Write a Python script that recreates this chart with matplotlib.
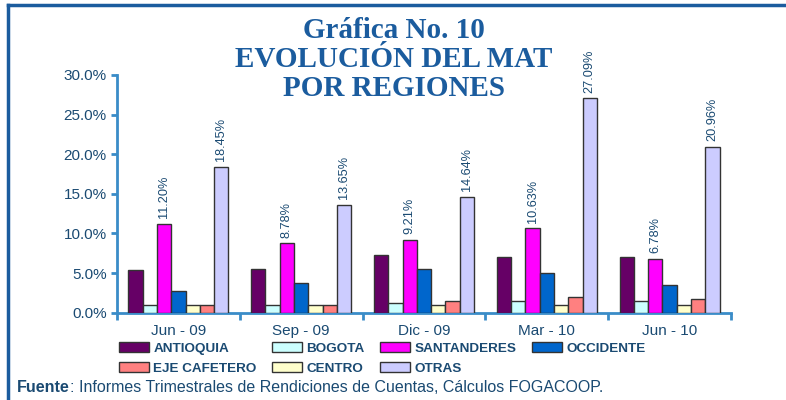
import matplotlib
matplotlib.use("Agg")
import matplotlib.pyplot as plt
from matplotlib.patches import Patch
from matplotlib.lines import Line2D
import numpy as np

# ---- data ----
periods = ["Jun - 09", "Sep - 09", "Dic - 09", "Mar - 10", "Jun - 10"]
series_names = ["ANTIOQUIA", "BOGOTA", "SANTANDERES", "OCCIDENTE",
                "CENTRO", "EJE CAFETERO", "OTRAS"]
antioquia = [5.4, 5.5, 7.25, 7.0, 7.0]
bogota = [1.0, 1.0, 1.26, 1.5, 1.5]
santanderes = [11.20, 8.78, 9.21, 10.63, 6.78]
occidente = [2.8, 3.8, 5.5, 5.05, 3.45]
centro = [1.0, 1.0, 1.0, 1.0, 1.0]
eje_cafetero = [1.0, 1.0, 1.5, 1.95, 1.7]
otras = [18.45, 13.65, 14.64, 27.09, 20.96]
labeled_series = ["SANTANDERES", "OTRAS"]
legend_order = ["ANTIOQUIA", "BOGOTA", "SANTANDERES", "OCCIDENTE",
                "EJE CAFETERO", "CENTRO", "OTRAS"]
yticks = [0, 5, 10, 15, 20, 25, 30]

values = {
    "ANTIOQUIA": antioquia, "BOGOTA": bogota, "SANTANDERES": santanderes,
    "OCCIDENTE": occidente, "CENTRO": centro, "EJE CAFETERO": eje_cafetero,
    "OTRAS": otras,
}
colors = {
    "ANTIOQUIA": "#660066", "BOGOTA": "#CCFFFF", "SANTANDERES": "#FF00FF",
    "OCCIDENTE": "#0066CC", "CENTRO": "#FFFFCC", "EJE CAFETERO": "#FF8080",
    "OTRAS": "#CCCCFF",
}

title_color = "#1B5C9E"
text_color = "#1A4A72"
axis_color = "#3A8CC8"
edge_color = "#333333"

fig = plt.figure(figsize=(7.86, 4.0), dpi=100)
fig.patch.set_facecolor("white")

ax = fig.add_axes([117 / 786, 1 - 312.7 / 400, (731 - 117) / 786, (312.7 - 75) / 400])
ax.set_facecolor("none")

x = np.arange(len(periods))
w = 0.1163
n = len(series_names)
for i, name in enumerate(series_names):
    off = (i - (n - 1) / 2) * w
    ax.bar(x + off, values[name], width=w, color=colors[name],
           edgecolor=edge_color, linewidth=1.0, zorder=3)
    if name in labeled_series:
        for xi, v in zip(x + off, values[name]):
            ax.annotate(f"{v:.2f}%", xy=(xi, v), xytext=(0, 4),
                        textcoords="offset points", rotation=90,
                        ha="center", va="bottom", fontsize=9.2,
                        color=text_color, family="Liberation Sans")

ax.set_xlim(-0.5, len(periods) - 0.5)
ax.set_ylim(0, 30)

for s in ["top", "right"]:
    ax.spines[s].set_visible(False)
for s in ["left", "bottom"]:
    ax.spines[s].set_color(axis_color)
    ax.spines[s].set_linewidth(2.0)

ax.set_yticks(yticks)
ax.set_yticklabels([f"{t:.1f}%" for t in yticks], fontsize=11,
                   color=text_color, family="Liberation Sans")
ax.tick_params(axis="y", length=4, width=2.0, color=axis_color, pad=3.5)

ax.set_xticks(np.arange(-0.5, len(periods)), minor=False)
ax.set_xticklabels([""] * (len(periods) + 1))
ax.set_xticks(x, minor=True)
ax.set_xticklabels(periods, minor=True, fontsize=11, color=text_color,
                   family="Liberation Sans")
ax.tick_params(axis="x", which="major", length=5, width=2.0, color=axis_color)
ax.tick_params(axis="x", which="minor", length=0, pad=8)

# ---- title ----
title_lines = ["Gráfica No. 10", "EVOLUCIÓN DEL MAT", "POR REGIONES"]
baselines = [38.5, 67.3, 95.7]
for line, yb in zip(title_lines, baselines):
    fig.text(394 / 786, 1 - yb / 400, line, ha="center", va="baseline",
             fontsize=21, fontweight="bold", family="Liberation Serif",
             color=title_color, zorder=10)

# ---- legend ----
handles = {name: Patch(facecolor=colors[name], edgecolor=edge_color,
                       linewidth=1.0) for name in series_names}
ncol = 4
rows = [legend_order[:ncol], legend_order[ncol:]]
ordered = []
for c in range(ncol):
    for r in rows:
        if c < len(r):
            ordered.append(r[c])
leg = fig.legend([handles[nm] for nm in ordered], ordered,
                 loc="upper left", bbox_to_anchor=(119 / 786, 1 - 342 / 400),
                 ncol=ncol, frameon=False, borderpad=0, borderaxespad=0,
                 handlelength=2.2, handleheight=0.75, handletextpad=0.35,
                 columnspacing=1.15, labelspacing=0.55,
                 prop={"family": "Liberation Sans", "weight": "bold", "size": 9.7})
for t in leg.get_texts():
    t.set_color(text_color)

# ---- source note ----
t1 = fig.text(17 / 786, 1 - 392 / 400, "Fuente", ha="left", va="baseline",
              fontsize=11.5, fontweight="bold", family="Liberation Sans",
              color=text_color)
plt.annotate(": Informes Trimestrales de Rendiciones de Cuentas, Cálculos FOGACOOP.",
             xy=(1, 0), xycoords=t1, ha="left", va="bottom",
             fontsize=11.5, family="Liberation Sans", color=text_color,
             annotation_clip=False)

# ---- frame lines (top and left) ----
fig.add_artist(Line2D([8 / 786, 1.0], [1 - 5 / 400, 1 - 5 / 400],
                      transform=fig.transFigure, color=title_color, linewidth=2.5))
fig.add_artist(Line2D([8 / 786, 8 / 786], [0.0, 1 - 5 / 400],
                      transform=fig.transFigure, color=title_color, linewidth=2.5))

fig.savefig("out.png", dpi=100, facecolor="white")
